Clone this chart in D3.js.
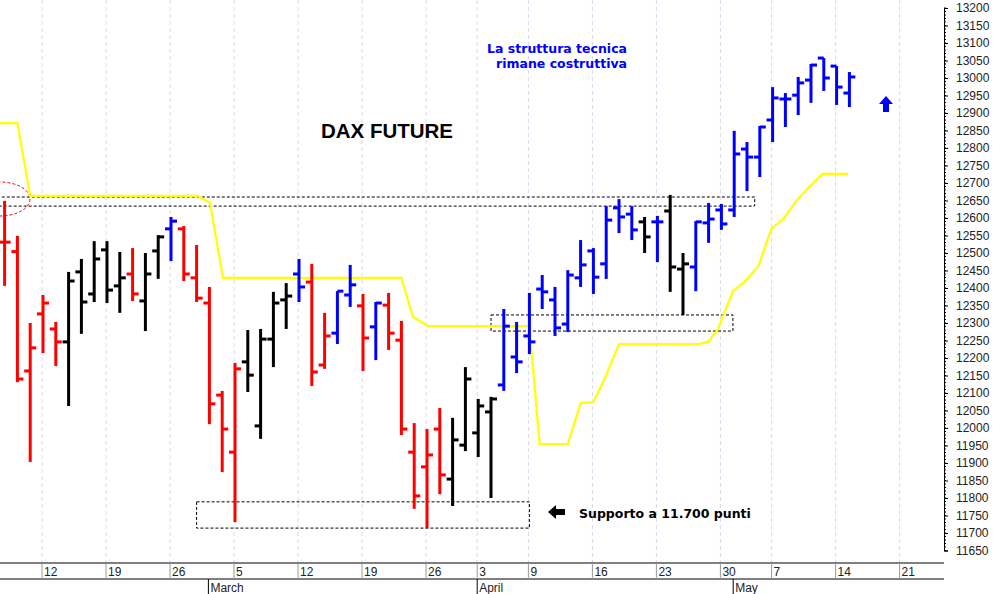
<!DOCTYPE html>
<html>
<head>
<meta charset="utf-8">
<script src="https://cdn.jsdelivr.net/npm/d3@7"></script>
<style>
  body { margin: 0; background: #fff; }
  svg { display: block; }
</style>
</head>
<body>
<svg id="chart" width="994" height="594"></svg>
<script>
// bar index 0 = 12 Feb 2018 (trading days only, holidays skipped)
const barIdx = d3.range(-3, 64);
const opens  = [12531,12504,12163,12326,12283,12246,12446,12383,12509,12406,12440,12363,12506,12569,12569,12429,12357,12094,11931,12189,12006,12254,12366,12440,12417,12180,12271,12380,12349,12289,12351,12251,11931,11889,11997,11854,11951,11986,12046,12123,12203,12263,12397,12366,12297,12429,12506,12469,12629,12611,12589,12589,12620,12454,12460,12586,12623,12623,12797,12774,12880,12940,12951,12994,13057,13034,12957];
const highs  = [12649,12549,12300,12380,12303,12446,12483,12534,12534,12503,12514,12500,12551,12603,12577,12523,12403,12106,12186,12280,12283,12389,12414,12483,12469,12329,12391,12466,12383,12360,12386,12306,12014,11997,12057,12029,12174,12083,12089,12340,12303,12386,12437,12403,12451,12537,12514,12634,12654,12634,12603,12606,12666,12500,12591,12643,12640,12849,12817,12863,12974,12957,13003,13040,13057,13034,13017];
const lows   = [12406,12131,11903,12214,12177,12063,12269,12360,12357,12329,12363,12277,12426,12477,12420,12360,12011,11874,11731,12103,11969,12174,12283,12360,12120,12169,12240,12346,12163,12194,12223,11980,11769,11714,11811,11777,11934,11917,11800,12106,12157,12211,12340,12263,12274,12403,12383,12426,12557,12537,12500,12474,12389,12323,12391,12529,12566,12603,12677,12717,12817,12860,12894,12929,12963,12923,12917];
const closes = [12531,12140,12229,12357,12246,12420,12360,12483,12394,12429,12383,12440,12546,12591,12440,12371,12069,11997,12169,12151,12254,12357,12377,12403,12160,12263,12391,12409,12257,12357,12271,11997,11806,11923,11866,11966,12140,12063,12083,12291,12189,12246,12389,12286,12437,12466,12431,12594,12603,12566,12546,12589,12460,12469,12589,12597,12583,12783,12774,12860,12943,12940,12986,13037,13000,12974,13003];
const barColors = "rrrrrkkkkkrkkbrrrrrkkkkbrrbbrbrrrrrkkkkbbbbbbbbbbbkbkkbbbbbbbbbbbbbkb";

// support line (index, price)
const lineIdx   = [-3.4,-2.0,-1.0,12.1,13.05,14.06,28,28.9,30.1,38,38.8,41,42,43,43.9,45,51.3,51.95,52.7,53.9,54.8,55.9,56.9,57.9,58.9,59.8,60.9,62.9];
const linePrice = [12871,12871,12663,12663,12643,12429,12429,12317,12291,12291,11954,11954,12071,12074,12143,12240,12240,12246,12280,12391,12417,12463,12569,12600,12651,12686,12726,12726];

// weekly date ticks (index, label) and months
const weekIdx    = [0,5,10,15,20,25,30,34,38,43,48,53,57,62,67];
const weekLabels = ["12","19","26","5","12","19","26","3","9","16","23","30","7","14","21"];
const monthIdx    = [-9.4,13,34,54];
const monthLabels = ["February","March","April","May"];

const colorMap = { r: "#ff0000", k: "#000000", b: "#0000ff" };

const svg = d3.select("#chart");
const axisX = 944, plotBottom = 563;

const x = d3.scaleLinear().domain([0, 1]).range([43, 55.8]);
const y = d3.scaleLinear().domain([11650, 13200]).range([550.5, 8]);

// vertical grid
svg.append("g").selectAll("line").data(weekIdx).join("line")
  .attr("x1", d => x(d) - 1).attr("x2", d => x(d) - 1)
  .attr("y1", 0).attr("y2", plotBottom)
  .attr("stroke", "#d8d8f0").attr("stroke-dasharray", "4,3");

// support / resistance boxes
const boxes = [
  { x0: -4, x1: 55.6, p0: 12660, p1: 12634 },
  { x0: 12.0, x1: 38.0, p0: 11789, p1: 11714 },
  { x0: 35.0, x1: 53.9, p0: 12323, p1: 12277 }
];
svg.append("g").selectAll("rect").data(boxes).join("rect")
  .attr("x", d => x(d.x0)).attr("width", d => x(d.x1) - x(d.x0))
  .attr("y", d => y(d.p0)).attr("height", d => y(d.p1) - y(d.p0))
  .attr("fill", "none").attr("stroke", "#000").attr("stroke-dasharray", "3,2");

// red dashed ellipse
svg.append("ellipse").attr("cx", 0).attr("cy", 199).attr("rx", 30).attr("ry", 17)
  .attr("fill", "none").attr("stroke", "#ff0000").attr("stroke-dasharray", "3,2");

// yellow line
svg.append("path")
  .datum(d3.zip(lineIdx, linePrice))
  .attr("d", d3.line().x(d => x(d[0])).y(d => y(d[1])))
  .attr("fill", "none").attr("stroke", "#ffff00").attr("stroke-width", 2.2);

// OHLC bars
const bars = barIdx.map((i, k) => ({ i, o: opens[k], h: highs[k], l: lows[k], c: closes[k], col: colorMap[barColors[k]] }));
const bg = svg.append("g").selectAll("g").data(bars).join("g").attr("stroke-width", 3);
bg.append("line").attr("x1", d => x(d.i)).attr("x2", d => x(d.i))
  .attr("y1", d => y(d.h)).attr("y2", d => y(d.l)).attr("stroke", d => d.col);
bg.append("line").attr("x1", d => x(d.i) - 6).attr("x2", d => x(d.i))
  .attr("y1", d => y(d.o)).attr("y2", d => y(d.o)).attr("stroke", d => d.col);
bg.append("line").attr("x1", d => x(d.i)).attr("x2", d => x(d.i) + 6)
  .attr("y1", d => y(d.c)).attr("y2", d => y(d.c)).attr("stroke", d => d.col);

// right axis
svg.append("rect").attr("x", axisX).attr("y", 0).attr("width", 994 - axisX).attr("height", 594).attr("fill", "#fff");
const yAxis = d3.axisRight(y).tickValues(d3.range(11650, 13201, 50)).tickFormat(d3.format("d")).tickSize(4);
const ya = svg.append("g").attr("transform", `translate(${axisX},0)`).call(yAxis);
ya.select(".domain").attr("stroke", "#000");
ya.selectAll("text").attr("font-family", "Arial, Liberation Sans").attr("font-size", 12).attr("fill", "#222").attr("x", 12);
ya.selectAll(".tick line").attr("stroke", "#000");
svg.append("g").attr("transform", `translate(${axisX},0)`).selectAll("line")
  .data(d3.range(11650, 13201, 10)).join("line")
  .attr("x1", 0).attr("x2", 2).attr("y1", d => y(d)).attr("y2", d => y(d)).attr("stroke", "#000");

// bottom axis
const bottom = svg.append("g");
bottom.append("line").attr("x1", 0).attr("x2", axisX).attr("y1", plotBottom).attr("y2", plotBottom).attr("stroke", "#000");
bottom.append("line").attr("x1", 0).attr("x2", axisX).attr("y1", 579).attr("y2", 579).attr("stroke", "#000");
bottom.selectAll(".wk").data(weekIdx).join("line").attr("class", "wk")
  .attr("x1", d => x(d) - 1).attr("x2", d => x(d) - 1).attr("y1", plotBottom).attr("y2", 579).attr("stroke", "#999");
bottom.selectAll(".wkt").data(weekIdx).join("text").attr("class", "wkt")
  .attr("x", (d, k) => x(d) + 1).attr("y", 576)
  .attr("font-family", "Arial, Liberation Sans").attr("font-size", 12).attr("fill", "#222")
  .text((d, k) => weekLabels[k]);
bottom.selectAll(".mo").data(monthIdx).join("line").attr("class", "mo")
  .attr("x1", d => x(d) - 1).attr("x2", d => x(d) - 1).attr("y1", 579).attr("y2", 594).attr("stroke", "#000");
bottom.selectAll(".mot").data(monthIdx).join("text").attr("class", "mot")
  .attr("x", d => x(d) + 1).attr("y", 592)
  .attr("font-family", "Arial, Liberation Sans").attr("font-size", 12).attr("fill", "#222")
  .text((d, k) => monthLabels[k]);

// annotations
svg.append("text").attr("x", 387).attr("y", 138).attr("text-anchor", "middle")
  .attr("font-family", "Arial, Liberation Sans").attr("font-weight", "bold").attr("font-size", 20.5)
  .text("DAX FUTURE");
const note = svg.append("text").attr("font-family", "DejaVu Sans").attr("font-weight", "bold")
  .attr("font-size", 12.5).attr("fill", "#0000ff").attr("text-anchor", "end");
note.append("tspan").attr("x", 627).attr("y", 53).text("La struttura tecnica");
note.append("tspan").attr("x", 627).attr("y", 68).text("rimane costruttiva");
svg.append("text").attr("x", 579).attr("y", 518).attr("font-family", "DejaVu Sans").attr("font-weight", "bold")
  .attr("font-size", 12.5).attr("fill", "#000").text("Supporto a 11.700 punti");
svg.append("path").attr("d", "M548,512 L556,505 L556,509 L565,509 L565,515 L556,515 L556,519 Z").attr("fill", "#000");
svg.append("path").attr("d", "M886,96 L893,104 L889,104 L889,112 L883,112 L883,104 L879,104 Z").attr("fill", "#0000ff");
</script>
</body>
</html>
